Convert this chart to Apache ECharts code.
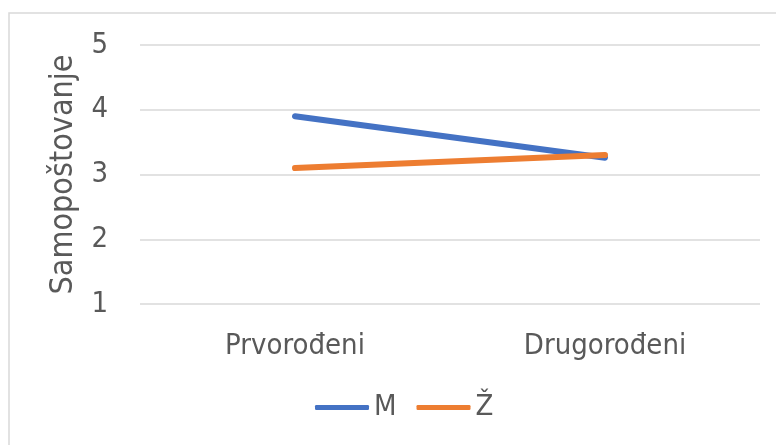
<!DOCTYPE html>
<html>
<head>
<meta charset="utf-8">
<script src="https://cdn.jsdelivr.net/npm/echarts@6/dist/echarts.min.js"></script>
<style>
  html, body { margin: 0; padding: 0; background: #fff; }
  #chart { width: 776px; height: 445px; }
</style>
</head>
<body>
<div id="chart"></div>
<script>
const categories = ['Prvorođeni', 'Drugorođeni'];
const seriesNames = ['M', 'Ž'];
const valuesM = [3.9, 3.26];
const valuesZ = [3.1, 3.3];
const yTicks = [1, 2, 3, 4, 5];

const FONT = "'Liberation Sans Narrow', 'DejaVu Sans Condensed', sans-serif";
const TEXT = '#595959';

const chart = echarts.init(document.getElementById('chart'));

chart.setOption({
    backgroundColor: '#fff',
    animation: false,
    graphic: [{
        type: 'rect',
        shape: { x: 9, y: 13, width: 800, height: 460 },
        style: { fill: 'none', stroke: '#d9d9d9', lineWidth: 1.5 },
        silent: true
    }],
    grid: { left: 140, right: 16, top: 45, bottom: 141 },
    legend: {
        bottom: 18,
        left: 310,
        itemWidth: 54,
        itemHeight: 5,
        itemGap: 20,
        icon: 'roundRect',
        textStyle: { fontFamily: FONT, fontSize: 29, color: TEXT, padding: [0, 0, 0, 0] },
        data: seriesNames
    },
    xAxis: {
        type: 'category',
        data: categories,
        boundaryGap: true,
        axisLine: { show: false },
        axisTick: { show: false },
        axisLabel: { fontFamily: FONT, fontSize: 29, color: TEXT, margin: 28 }
    },
    yAxis: {
        type: 'value',
        min: yTicks[0],
        max: yTicks[yTicks.length - 1],
        interval: 1,
        name: 'Samopoštovanje',
        nameLocation: 'middle',
        nameRotate: 90,
        nameGap: 60,
        nameTextStyle: { fontFamily: FONT, fontSize: 32, color: TEXT },
        axisLine: { show: false },
        axisTick: { show: false },
        axisLabel: { fontFamily: FONT, fontSize: 29, color: TEXT, margin: 32 },
        splitLine: { lineStyle: { color: '#d9d9d9', width: 1.5 } }
    },
    series: [
        {
            name: seriesNames[0],
            type: 'line',
            data: valuesM,
            symbol: 'none',
            color: '#4472c4',
            lineStyle: { width: 6, cap: 'round' }
        },
        {
            name: seriesNames[1],
            type: 'line',
            data: valuesZ,
            symbol: 'none',
            color: '#ed7d31',
            lineStyle: { width: 6, cap: 'round' }
        }
    ]
});
</script>
</body>
</html>
